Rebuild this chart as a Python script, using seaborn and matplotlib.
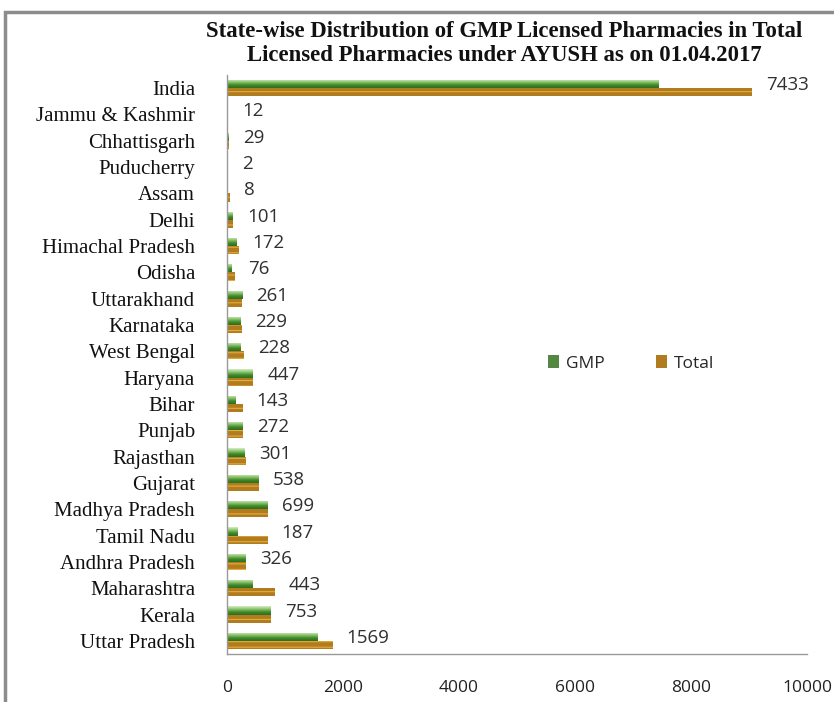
#!/usr/bin/env python3
import numpy as np
import pandas as pd
import seaborn as sns
import matplotlib.pyplot as plt
from matplotlib.colors import LinearSegmentedColormap
from matplotlib.patches import Rectangle

# data (top to bottom)
states = [
    "India", "Jammu & Kashmir", "Chhattisgarh", "Puducherry", "Assam", "Delhi",
    "Himachal Pradesh", "Odisha", "Uttarakhand", "Karnataka", "West Bengal",
    "Haryana", "Bihar", "Punjab", "Rajasthan", "Gujarat", "Madhya Pradesh",
    "Tamil Nadu", "Andhra Pradesh", "Maharashtra", "Kerala", "Uttar Pradesh",
]
gmp = [7433, 12, 29, 2, 8, 101, 172, 76, 261, 229, 228,
       447, 143, 272, 301, 538, 699, 187, 326, 443, 753, 1569]
total = [9050, 15, 40, 20, 45, 110, 200, 130, 265, 250, 300,
         455, 270, 275, 320, 545, 705, 703, 330, 825, 760, 1820]
x_ticks = [0, 2000, 4000, 6000, 8000, 10000]

title = ("State-wise Distribution of GMP Licensed Pharmacies in Total\n"
         "Licensed Pharmacies under AYUSH as on 01.04.2017")

df = pd.DataFrame({
    "State": states * 2,
    "Count": gmp + total,
    "Series": ["GMP"] * len(states) + ["Total"] * len(states),
})

sns.set_style("white")
plt.rcParams["font.family"] = ["Liberation Serif", "DejaVu Serif"]
plt.rcParams["hatch.linewidth"] = 0.8
sans = ["Open Sans", "DejaVu Sans"]

fig = plt.figure(figsize=(8.34, 7.02), dpi=100)
ax = fig.add_axes([0.2722, 0.0684, 0.6954, 0.8248])

sns.barplot(data=df, y="State", x="Count", hue="Series", order=states,
            hue_order=["GMP", "Total"], orient="h", width=0.62, gap=0,
            palette={"GMP": "#4f9236", "Total": "#c98208"},
            linewidth=0, ax=ax, legend=True)

# gradient fill on GMP bars, stripes on Total bars
green = LinearSegmentedColormap.from_list("g", ["#d4ecc4", "#8cc46c", "#3f8a2a", "#2e6e1e"])
grad = np.linspace(0, 1, 32).reshape(-1, 1)
for p in ax.containers[0]:
    x0, y0, w, h = p.get_x(), p.get_y(), p.get_width(), p.get_height()
    if w <= 0:
        continue
    im = ax.imshow(grad, extent=[x0, x0 + w, y0 + h, y0], cmap=green,
                   aspect="auto", zorder=p.get_zorder() + 0.1, interpolation="bilinear")
    im.set_clip_path(p)
for p in ax.containers[1]:
    p.set_hatch("---")
    p.set_edgecolor("#e6ac38")
    p.set_linewidth(0)

ax.set_xlim(0, 10000)
ax.set_ylim(len(states) - 0.5, -0.5)

# value labels (GMP counts)
for i, (g, t) in enumerate(zip(gmp, total)):
    ax.annotate(str(g), xy=(max(g, t), i), xytext=(14, 3), textcoords="offset pixels",
                ha="left", va="center", fontsize=13.5, color="#303030", family=sans)

ax.set_xticks(x_ticks)
ax.set_xticklabels([str(v) for v in x_ticks], family=sans, fontsize=12.5, color="#222222")
ax.set_yticks(range(len(states)))
ax.set_yticklabels(states, fontsize=15, color="#111111")
ax.set_yticks(np.arange(len(states) + 1) - 0.5, minor=True)
ax.tick_params(axis="y", which="major", length=0, pad=23)
ax.tick_params(axis="y", which="minor", length=5, color="#999999", width=1)
ax.tick_params(axis="x", length=5, color="#999999", width=1, pad=14, direction="out")
ax.set_xlabel("")
ax.set_ylabel("")

for s in ["top", "right"]:
    ax.spines[s].set_visible(False)
for s in ["left", "bottom"]:
    ax.spines[s].set_color("#999999")
    ax.spines[s].set_linewidth(1)

handles, labels = ax.get_legend_handles_labels()
ax.legend(handles, labels, loc="center", bbox_to_anchor=(0.697, 0.502), ncol=2,
          frameon=False, handlelength=0.6, handleheight=0.8, handletextpad=0.4,
          columnspacing=3.0, prop={"family": sans, "size": 12.5})

fig.text(0.605, 0.938, title, ha="center", va="center", fontsize=16.4, fontweight="bold",
         linespacing=1.2, color="#111111")

# chart-area frame
fig.patches.append(Rectangle((0.006, -0.05), 1.1, 0.05 + 0.983, transform=fig.transFigure,
                             fill=False, edgecolor="#8c8c8c", linewidth=2.5))

fig.savefig("out.png", dpi=100)
